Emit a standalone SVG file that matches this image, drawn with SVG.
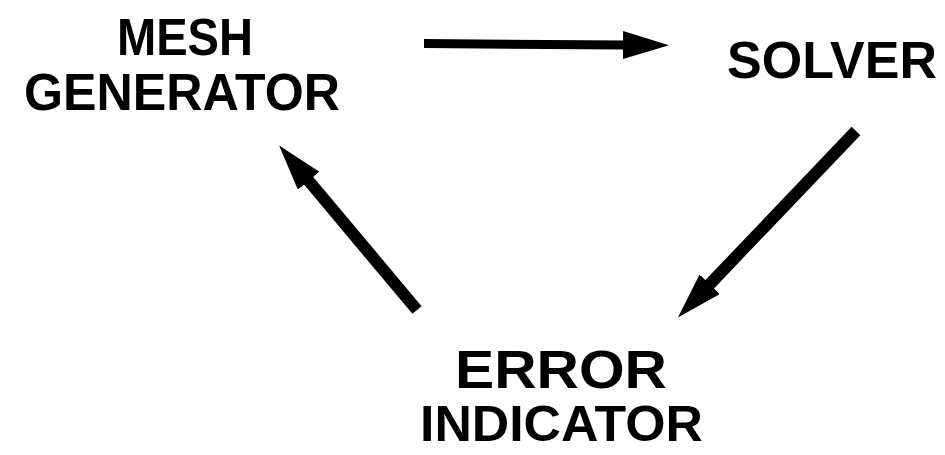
<svg xmlns="http://www.w3.org/2000/svg" width="945" height="455" viewBox="0 0 945 455">
  <style>
    .label { font-family: "Liberation Sans", Arial, Helvetica, sans-serif; font-weight: bold; fill: #000; }
    .shaft { fill: none; stroke: #000; stroke-linecap: butt; }
  </style>
  <defs>
    <!-- solid triangular arrowhead, sized in user units -->
    <marker id="head" markerUnits="userSpaceOnUse" markerWidth="48" markerHeight="30" refX="1" refY="14" orient="auto">
      <path d="M0,0 L46,14 L0,28 Z" fill="#000"/>
    </marker>
  </defs>
  <rect width="945" height="455" fill="#fff"/>

  <g id="mesh-generator">
    <text class="label" x="117" y="55" font-size="52" textLength="136" lengthAdjust="spacingAndGlyphs">MESH</text>
    <text class="label" x="24" y="110" font-size="52" textLength="316" lengthAdjust="spacingAndGlyphs">GENERATOR</text>
  </g>

  <g id="solver">
    <text class="label" x="727" y="78" font-size="52" textLength="210" lengthAdjust="spacingAndGlyphs">SOLVER</text>
  </g>

  <g id="error-indicator">
    <text class="label" x="455" y="388" font-size="53" textLength="212" lengthAdjust="spacingAndGlyphs">ERROR</text>
    <text class="label" x="420" y="441" font-size="50" textLength="283" lengthAdjust="spacingAndGlyphs">INDICATOR</text>
  </g>

  <g id="connectors">
    <line class="shaft" x1="424" y1="43.5" x2="624" y2="45" stroke-width="9" marker-end="url(#head)"/>
    <line class="shaft" x1="856" y1="131" x2="709" y2="285" stroke-width="12" marker-end="url(#head)"/>
    <line class="shaft" x1="417" y1="310" x2="308" y2="180" stroke-width="12" marker-end="url(#head)"/>
  </g>
</svg>
